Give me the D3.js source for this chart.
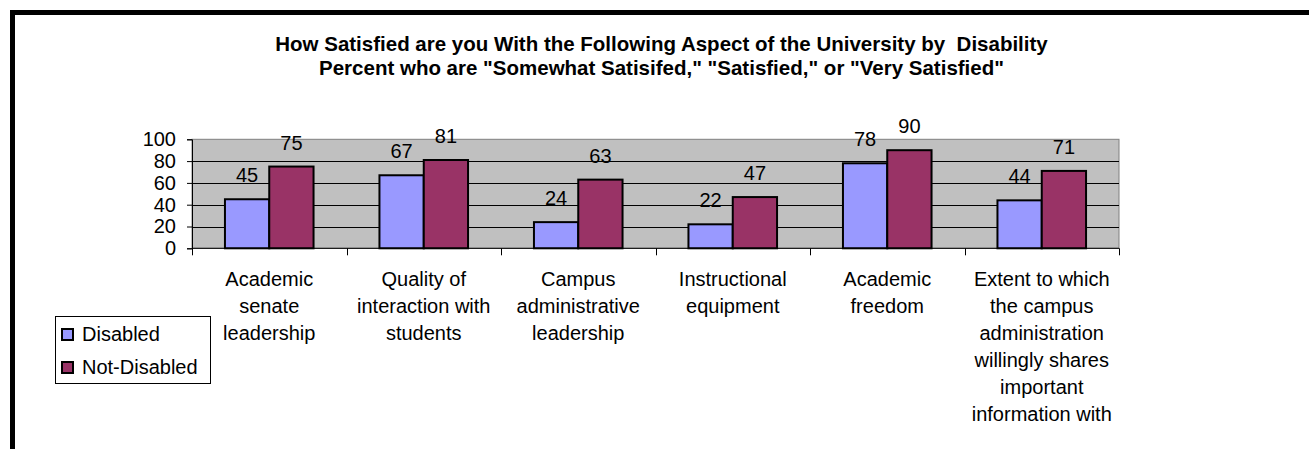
<!DOCTYPE html>
<html>
<head>
<meta charset="utf-8">
<script src="https://cdn.jsdelivr.net/npm/d3@7"></script>
<style>
  html, body { margin: 0; padding: 0; background: #fff; }
  svg { display: block; font-family: Arial, "Liberation Sans", sans-serif; }
</style>
</head>
<body>
<svg id="chart" width="1309" height="449"></svg>
<script>
// ---- data ----
const titleLines = [
  "How Satisfied are you With the Following Aspect of the University by  Disability",
  "Percent who are \"Somewhat Satisifed,\" \"Satisfied,\" or \"Very Satisfied\""
];
const categories = [
  "Academic senate leadership",
  "Quality of interaction with students",
  "Campus administrative leadership",
  "Instructional equipment",
  "Academic freedom",
  "Extent to which the campus administration willingly shares important information with"
];
const categoryLines = [
  ["Academic", "senate", "leadership"],
  ["Quality of", "interaction with", "students"],
  ["Campus", "administrative", "leadership"],
  ["Instructional", "equipment"],
  ["Academic", "freedom"],
  ["Extent to which", "the campus", "administration", "willingly shares", "important", "information with"]
];
const seriesNames = ["Disabled", "Not-Disabled"];
const disabled = [45, 67, 24, 22, 78, 44];
const notDisabled = [75, 81, 63, 47, 90, 71];
const yTicks = [0, 20, 40, 60, 80, 100];
const colors = ["#9999FF", "#993366"];

// ---- layout ----
const svg = d3.select("#chart");
const plot = { left: 192, right: 1119, top: 139.3, bottom: 248.3 };
const fs = 20;

// frame
svg.append("rect").attr("x", 10).attr("y", 10).attr("width", 1299).attr("height", 5).attr("fill", "#000");
svg.append("rect").attr("x", 10).attr("y", 10).attr("width", 5).attr("height", 439).attr("fill", "#000");

// title
svg.append("g").selectAll("text").data(titleLines).join("text")
  .attr("x", 661.5).attr("y", (d, i) => 50.5 + i * 24.5)
  .attr("text-anchor", "middle").attr("font-weight", "bold").attr("font-size", 20.5)
  .style("white-space", "pre")
  .text(d => d);

const x0 = d3.scaleBand().domain(categories).range([plot.left, plot.right]).paddingInner(0).paddingOuter(0);
const x1 = d3.scaleBand().domain(seriesNames).range([0, x0.bandwidth()]).paddingInner(0).paddingOuter(0.744);
const y = d3.scaleLinear().domain([0, 100]).range([plot.bottom, plot.top]);

// plot background
svg.append("rect")
  .attr("x", plot.left).attr("y", plot.top)
  .attr("width", plot.right - plot.left).attr("height", plot.bottom - plot.top)
  .attr("fill", "#C0C0C0").attr("stroke", "#808080").attr("stroke-width", 1);

// gridlines
svg.append("g").selectAll("line").data(yTicks.filter(t => t > 0 && t < 100)).join("line")
  .attr("x1", plot.left).attr("x2", plot.right)
  .attr("y1", d => Math.round(y(d)) + 0.5).attr("y2", d => Math.round(y(d)) + 0.5)
  .attr("stroke", "#000").attr("stroke-width", 1);

// bars
const series = [disabled, notDisabled];
const gBars = svg.append("g");
categories.forEach((c, ci) => {
  seriesNames.forEach((s, si) => {
    const v = series[si][ci];
    gBars.append("rect")
      .attr("x", x0(c) + x1(s)).attr("y", y(v))
      .attr("width", x1.bandwidth()).attr("height", y(0) - y(v))
      .attr("fill", colors[si]).attr("stroke", "#000").attr("stroke-width", 2);
    svg.append("text")
      .attr("x", x0(c) + x1(s) + x1.bandwidth() / 2).attr("y", y(v) - 17)
      .attr("text-anchor", "middle").attr("font-size", fs).attr("fill", "#000")
      .text(v);
  });
});

// y axis
const yAxis = svg.append("g").attr("transform", `translate(${plot.left},0)`)
  .call(d3.axisLeft(y).tickValues(yTicks).tickSize(5).tickPadding(11));
yAxis.select(".domain").attr("stroke", "#000");
yAxis.selectAll("text").attr("font-size", fs).attr("font-family", "Arial, 'Liberation Sans', sans-serif").attr("fill", "#000");

// x axis
const xAxis = svg.append("g").attr("transform", `translate(0,${plot.bottom})`);
xAxis.append("line").attr("x1", plot.left).attr("x2", plot.right).attr("y1", 0).attr("y2", 0).attr("stroke", "#000");
const boundaries = categories.map(c => x0(c)).concat([plot.right]);
xAxis.selectAll("line.tick").data(boundaries).join("line").attr("class", "tick")
  .attr("x1", d => Math.round(d) + 0.5).attr("x2", d => Math.round(d) + 0.5)
  .attr("y1", 0).attr("y2", 7).attr("stroke", "#000");

// category labels
categories.forEach((c, ci) => {
  const t = svg.append("text").attr("text-anchor", "middle").attr("font-size", fs).attr("fill", "#000");
  categoryLines[ci].forEach((ln, li) => {
    t.append("tspan").attr("x", x0(c) + x0.bandwidth() / 2).attr("y", 286 + li * 27).text(ln);
  });
});

// legend
const lg = svg.append("g");
lg.append("rect").attr("x", 55.5).attr("y", 316.5).attr("width", 155).attr("height", 67)
  .attr("fill", "#fff").attr("stroke", "#000").attr("stroke-width", 1);
seriesNames.forEach((s, i) => {
  lg.append("rect").attr("x", 62).attr("y", 329 + i * 33).attr("width", 11).attr("height", 11)
    .attr("fill", colors[i]).attr("stroke", "#000").attr("stroke-width", 2);
  lg.append("text").attr("x", 82).attr("y", 340.5 + i * 33).attr("font-size", fs).attr("fill", "#000").text(s);
});
</script>
</body>
</html>
